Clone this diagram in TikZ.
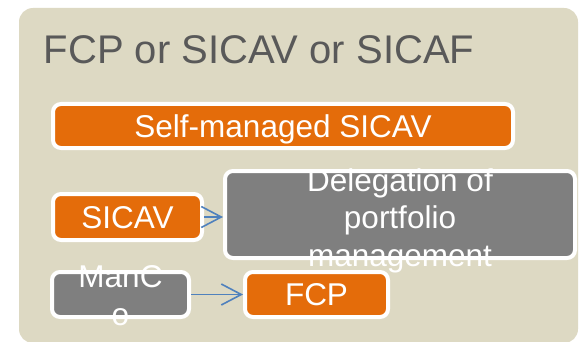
\documentclass[tikz,border=0pt]{standalone}
\usepackage{fontspec}
\setmainfont{Liberation Sans}
\usetikzlibrary{arrows.meta}
\definecolor{panel}{HTML}{DDD9C3}
\definecolor{orangebox}{HTML}{E46C0A}
\definecolor{graybox}{HTML}{7F7F7F}
\definecolor{titlegray}{HTML}{595959}
\definecolor{arrowblue}{HTML}{4F81BD}
\tikzset{
  boxbase/.style={draw=white, line width=4pt, rounded corners=8pt, inner sep=0pt,
    text=white, font=\fontsize{31.5}{37.5}\selectfont, text height=22.5pt, text depth=0pt},
  orangebox/.style={boxbase, fill=orangebox},
  graybox/.style={boxbase, fill=graybox},
  overtext/.style={text=white, font=\fontsize{31.5}{37.5}\selectfont, align=center, inner sep=0pt},
  arr/.style={draw=arrowblue, line width=1.6pt, -{Straight Barb[length=20pt, width=21pt]}}
}
\begin{document}
\begin{tikzpicture}[x=1pt, y=-1pt]
\useasboundingbox (0,0) rectangle (580,342);
\fill[white] (0,0) rectangle (580,342);
\fill[panel, rounded corners=14pt] (19,8) rectangle (578,343);
\node[anchor=base west, inner sep=0pt, text=titlegray, font=\fontsize{40}{48}\selectfont] (title) at (43.5,64) {FCP or SICAV or SICAF};
\node[orangebox, minimum width=460pt, minimum height=44pt] (selfm) at (283,126) {Self-managed SICAV};
\node[orangebox, minimum width=149pt, minimum height=46pt] (sicav) at (127.5,217) {SICAV};
\node[graybox, minimum width=350pt, minimum height=87pt] (deleg) at (400,214.5) {};
\node[overtext] (delegtext) at (400,220.5) {Delegation of\\portfolio\\management};
\node[graybox, minimum width=137pt, minimum height=45pt] (manco) at (120.5,294.5) {};
\node[overtext] (mancotext) at (120.5,295.5) {ManC\\o};
\node[orangebox, minimum width=143pt, minimum height=45pt] (fcp) at (316.5,294.5) {FCP};
\draw[arr] (sicav.east) -- (sicav.east -| deleg.west);
\draw[arr] (manco.east) -- (fcp.west);
\end{tikzpicture}
\end{document}
